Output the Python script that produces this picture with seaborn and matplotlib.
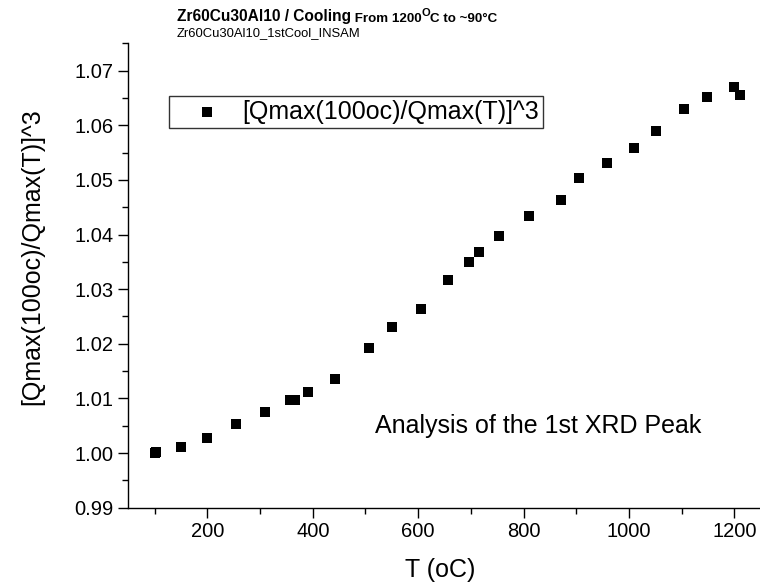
import numpy as np
import pandas as pd
import matplotlib
matplotlib.use("Agg")
import matplotlib.pyplot as plt
import seaborn as sns
from matplotlib.ticker import MultipleLocator, FixedLocator
from matplotlib.transforms import IdentityTransform

# ---- data ----
temperature = [1211, 1199, 1148, 1104, 1051, 1009, 958, 906, 872, 810, 753, 716,
               697, 656, 605, 550, 506, 442, 391, 366, 356, 310, 255, 200, 150, 103, 100]
ratio = [1.0656, 1.0670, 1.0651, 1.0629, 1.0589, 1.0558, 1.0531, 1.0503, 1.0463,
         1.0433, 1.0397, 1.0368, 1.0350, 1.0317, 1.0263, 1.0230, 1.0193, 1.0135,
         1.0112, 1.0097, 1.0097, 1.0076, 1.0053, 1.0027, 1.0012, 1.0002, 1.0000]
series_label = "[Qmax(100oc)/Qmax(T)]^3"
x_label = "T (oC)"
y_label = "[Qmax(100oc)/Qmax(T)]^3"
annotation = "Analysis of the 1st XRD Peak"
x_major = [200, 400, 600, 800, 1000, 1200]
y_major = [0.99, 1.00, 1.01, 1.02, 1.03, 1.04, 1.05, 1.06, 1.07]

df = pd.DataFrame({"T": temperature, "R": ratio})

sns.set_theme(style="ticks")
plt.rcParams["font.family"] = ["Liberation Sans", "DejaVu Sans"]
plt.rcParams["text.color"] = "black"
plt.rcParams["axes.labelcolor"] = "black"
plt.rcParams["xtick.color"] = "black"
plt.rcParams["ytick.color"] = "black"
plt.rcParams["legend.labelcolor"] = "black"

W, H = 760, 587
fig = plt.figure(figsize=(W / 100, H / 100), dpi=100)
ax = fig.add_axes([128.4 / W, (H - 507.7) / H, (760.6 - 128.4) / W, (507.7 - 43.3) / H])

sns.scatterplot(data=df, x="T", y="R", marker="s", color="black", s=46,
                linewidth=0, ax=ax, label=series_label)

ax.set_xlim(50, 1250)
ax.set_ylim(0.99, 1.075)
ax.xaxis.set_major_locator(FixedLocator(x_major))
ax.xaxis.set_minor_locator(MultipleLocator(100))
ax.yaxis.set_major_locator(FixedLocator(y_major))
ax.yaxis.set_minor_locator(MultipleLocator(0.005))
ax.set_yticklabels([f"{v:.2f}" for v in y_major])
ax.set_xticklabels([str(v) for v in x_major])
ax.tick_params(which="major", direction="out", length=7, width=1, labelsize=14.5,
               color="black", labelcolor="black", pad=3.5)
ax.tick_params(which="minor", direction="out", length=4, width=1, color="black")
for side in ["top", "right"]:
    ax.spines[side].set_visible(False)
for side in ["left", "bottom"]:
    ax.spines[side].set_color("black")
    ax.spines[side].set_linewidth(1)
ax.set_xlabel("")
ax.set_ylabel("")

leg = ax.legend(loc="upper left", bbox_to_anchor=(169.3 / W, (H - 96) / H),
                bbox_transform=fig.transFigure, borderaxespad=0, frameon=True,
                fancybox=False, edgecolor="black", fontsize=18, borderpad=0.16,
                handlelength=2.7, handletextpad=0.05, markerscale=1.0)
leg.get_frame().set_linewidth(1)
leg.get_frame().set_facecolor("white")
for t in leg.get_texts():
    t.set_color("black")

# axis labels
fig.text(440 / W, (H - 576.7) / H, x_label, ha="center", va="baseline", fontsize=18,
         color="black")
fig.text(32 / W, (H - 257) / H, y_label, ha="center", va="center", rotation=90,
         fontsize=18, color="black")

# annotation inside plot
ax.text(519, 1.00366, annotation, ha="left", va="baseline", fontsize=18, color="black")

# title pieces chained
fig.canvas.draw()
renderer = fig.canvas.get_renderer()
ident = IdentityTransform()

def chain(parts, x0, y0):
    x = x0
    for txt, size, weight, dy in parts:
        t = fig.text(x, H - y0 + dy, txt, fontsize=size, fontweight=weight,
                     transform=ident, ha="left", va="baseline", color="black")
        bb = t.get_window_extent(renderer=renderer)
        x = bb.x1

chain([("Zr60Cu30Al10 / Cooling", 11.2, "bold", 0),
       (" From 1200", 9.6, "bold", 0),
       ("O", 8.0, "bold", 5),
       ("C to ~90\u00b0C", 9.6, "bold", 0)], 176.7, 21.5)
chain([("Zr60Cu30Al10_1stCool_INSAM", 9.4, "normal", 0)], 176.7, 36)

fig.savefig("out.png", dpi=100)
